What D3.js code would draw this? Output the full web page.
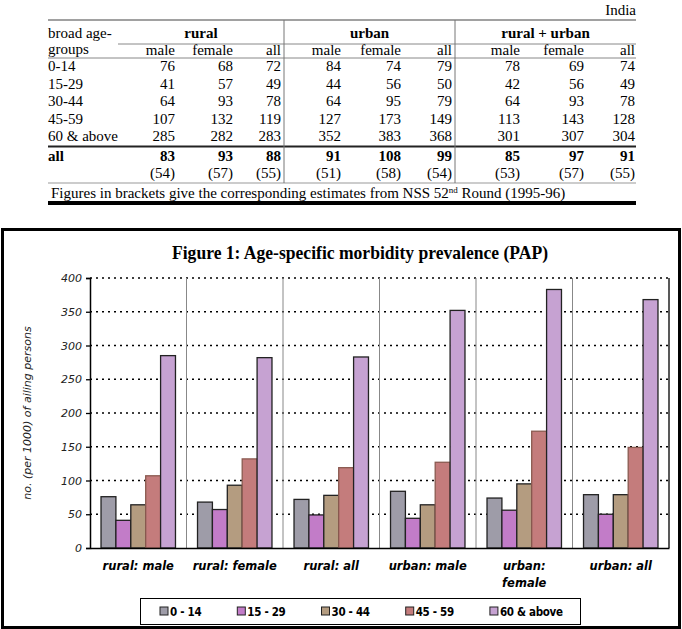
<!DOCTYPE html>
<html>
<head>
<meta charset="utf-8">
<script src="https://cdn.jsdelivr.net/npm/d3@7"></script>
<style>
  body { margin: 0; background: #fff; }
  svg { display: block; }
</style>
</head>
<body>
<div id="chart"></div>
<script>
// ---- data ----
const ageGroups = ["0-14", "15-29", "30-44", "45-59", "60 & above"];
const legendLabels = ["0 - 14", "15 - 29", "30 - 44", "45 - 59", "60 & above"];
const sectors = ["rural", "urban", "rural + urban"];
const sexes = ["male", "female", "all"];
// rows: age groups, columns: rural m/f/all, urban m/f/all, rural+urban m/f/all
const rowsValues = [
  [76, 68, 72, 84, 74, 79, 78, 69, 74],
  [41, 57, 49, 44, 56, 50, 42, 56, 49],
  [64, 93, 78, 64, 95, 79, 64, 93, 78],
  [107, 132, 119, 127, 173, 149, 113, 143, 128],
  [285, 282, 283, 352, 383, 368, 301, 307, 304]
];
const allValues = [83, 93, 88, 91, 108, 99, 85, 97, 91];
const nss52Values = [54, 57, 55, 51, 58, 54, 53, 57, 55];
const chartCategories = ["rural: male", "rural: female", "rural: all", "urban: male", "urban: female", "urban: all"];
const yTicks = [0, 50, 100, 150, 200, 250, 300, 350, 400];
const colors = ["#9e9ca8", "#c27cc8", "#b49c80", "#c47c7c", "#c6a2d2"];

const W = 682, H = 629;
const svg = d3.select("#chart").append("svg").attr("width", W).attr("height", H);

// ---- table ----
const serif = "'Liberation Serif', 'Times New Roman', serif";
const tLeft = 48, tRight = 636;
const colRight = [175, 233, 281, 341, 401, 452, 520, 584, 635];
const groupEdges = [118, 284, 455, 636];
const rowBase = [71, 89, 106, 124, 141];

const table = svg.append("g").style("font-family", serif).style("font-size", "15px").attr("fill", "#000");

table.append("text").attr("x", tRight).attr("y", 15).attr("text-anchor", "end").text("India");

function hline(y, x1, x2, color, w) {
  table.append("line").attr("x1", x1).attr("x2", x2).attr("y1", y).attr("y2", y)
    .attr("stroke", color).attr("stroke-width", w);
}
hline(20, tLeft, tRight, "#444", 1.2);
hline(44, groupEdges[0], tRight, "#888", 1);
hline(58, tLeft, tRight, "#888", 1);
hline(146.5, tLeft, tRight, "#222", 2);
hline(183, tLeft, tRight, "#999", 1);
hline(203, tLeft, tRight, "#000", 4);
[groupEdges[1], groupEdges[2]].forEach(x => {
  table.append("line").attr("x1", x).attr("x2", x).attr("y1", 20).attr("y2", 183)
    .attr("stroke", "#777").attr("stroke-width", 1);
});

table.append("text").attr("x", tLeft).attr("y", 38).text("broad age-");
table.append("text").attr("x", tLeft).attr("y", 54).text("groups");

table.selectAll(".grp").data(sectors).join("text")
  .attr("x", (d, i) => (groupEdges[i] + groupEdges[i + 1]) / 2)
  .attr("y", 38).attr("text-anchor", "middle").style("font-weight", "bold").text(d => d);

table.selectAll(".sex").data(d3.range(9)).join("text")
  .attr("x", i => colRight[i]).attr("y", 55).attr("text-anchor", "end")
  .text(i => sexes[i % 3]);

rowsValues.forEach((row, r) => {
  table.append("text").attr("x", tLeft).attr("y", rowBase[r]).text(ageGroups[r]);
  table.selectAll(null).data(row).join("text")
    .attr("x", (d, i) => colRight[i]).attr("y", rowBase[r]).attr("text-anchor", "end").text(d => d);
});

table.append("text").attr("x", tLeft).attr("y", 161).style("font-weight", "bold").text("all");
table.selectAll(null).data(allValues).join("text")
  .attr("x", (d, i) => colRight[i]).attr("y", 161).attr("text-anchor", "end")
  .style("font-weight", "bold").text(d => d);
table.selectAll(null).data(nss52Values).join("text")
  .attr("x", (d, i) => colRight[i]).attr("y", 178).attr("text-anchor", "end").text(d => "(" + d + ")");

const foot = table.append("text").attr("x", 51).attr("y", 198);
foot.append("tspan").text("Figures in brackets give the corresponding estimates from NSS 52");
foot.append("tspan").attr("dy", -5).style("font-size", "9px").text("nd");
foot.append("tspan").attr("dy", 5).text(" Round (1995-96)");

// ---- chart ----
const sans = "'DejaVu Sans', Verdana, sans-serif";
svg.append("rect").attr("x", 2.5).attr("y", 229.5).attr("width", 677).attr("height", 398)
  .attr("fill", "none").attr("stroke", "#000").attr("stroke-width", 3);

svg.append("text").attr("x", 360).attr("y", 259).attr("text-anchor", "middle")
  .style("font-family", serif).style("font-weight", "bold").style("font-size", "19px")
  .attr("textLength", 376).attr("lengthAdjust", "spacingAndGlyphs")
  .text("Figure 1: Age-specific morbidity prevalence (PAP)");

const plot = { left: 90, right: 669, top: 278, bottom: 548 };
const x0 = d3.scaleBand().domain(chartCategories).range([plot.left, plot.right]).padding(0);
const x1 = d3.scaleBand().domain(ageGroups).range([0, x0.bandwidth()]).paddingInner(0).paddingOuter(0.74);
const y = d3.scaleLinear().domain([0, 400]).range([plot.bottom, plot.top]);

// dotted gridlines
svg.append("g").selectAll("line").data(yTicks.filter(t => t > 0)).join("line")
  .attr("x1", plot.left).attr("x2", plot.right)
  .attr("y1", d => y(d)).attr("y2", d => y(d))
  .attr("stroke", "#000").attr("stroke-width", 1.5).attr("stroke-dasharray", "2,4");

// category separators
svg.append("g").selectAll("line").data(chartCategories.slice(1)).join("line")
  .attr("x1", d => x0(d)).attr("x2", d => x0(d))
  .attr("y1", plot.top).attr("y2", plot.bottom)
  .attr("stroke", "#888").attr("stroke-width", 1);

svg.append("line").attr("x1", plot.right).attr("x2", plot.right)
  .attr("y1", plot.top).attr("y2", plot.bottom).attr("stroke", "#222").attr("stroke-width", 1.5);

// bars
const barData = [];
chartCategories.forEach((c, ci) => {
  ageGroups.forEach((a, ai) => barData.push({ cat: c, age: a, ai: ai, value: rowsValues[ai][ci] }));
});
svg.append("g").selectAll("rect").data(barData).join("rect")
  .attr("x", d => x0(d.cat) + x1(d.age))
  .attr("y", d => y(d.value))
  .attr("width", x1.bandwidth())
  .attr("height", d => y(0) - y(d.value))
  .attr("fill", d => colors[d.ai])
  .attr("stroke", d => d.ai === 3 ? "#8a5a50" : "#222").attr("stroke-width", 1.3);

// y axis
const yAxis = svg.append("g").attr("transform", `translate(${plot.left},0)`)
  .call(d3.axisLeft(y).tickValues(yTicks).tickSize(4).tickPadding(4));
yAxis.select(".domain").attr("stroke", "#000").attr("stroke-width", 1.5);
yAxis.selectAll(".tick line").attr("stroke", "#000").attr("stroke-width", 1.3);
yAxis.selectAll(".tick text").style("font-family", sans).style("font-style", "italic")
  .style("font-size", "11px").attr("fill", "#222");

// x axis
const xAxis = svg.append("g").attr("transform", `translate(0,${plot.bottom})`)
  .call(d3.axisBottom(x0).tickSize(0).tickPadding(14));
xAxis.select(".domain").attr("stroke", "#000").attr("stroke-width", 1.5);
xAxis.selectAll(".tick text").style("font-family", sans).style("font-style", "italic")
  .style("font-weight", "bold").style("font-size", "11.5px").attr("fill", "#000")
  .each(function () {
    const t = d3.select(this);
    if (this.getComputedTextLength() > x0.bandwidth() - 6) {
      const words = t.text().split(" ");
      t.text(null);
      words.forEach((w, i) => {
        t.append("tspan").attr("x", 0).attr("dy", i === 0 ? "0.71em" : "1.45em").text(w);
      });
      t.attr("dy", null);
    }
  });

svg.append("text")
  .attr("transform", `translate(31,${(plot.top + plot.bottom) / 2}) rotate(-90)`)
  .attr("text-anchor", "middle")
  .style("font-family", sans).style("font-style", "italic").style("font-size", "11px").attr("fill", "#222")
  .text("no. (per 1000) of ailing persons");

// legend
const legend = svg.append("g");
legend.append("rect").attr("x", 140.5).attr("y", 598.5).attr("width", 440).attr("height", 26)
  .attr("fill", "#fff").attr("stroke", "#000").attr("stroke-width", 1);
let lx = 160;
legendLabels.forEach((lab, i) => {
  const g = legend.append("g").attr("transform", `translate(${lx},611)`);
  g.append("rect").attr("x", 0).attr("y", -4).attr("width", 8).attr("height", 8)
    .attr("fill", colors[i]).attr("stroke", "#222").attr("stroke-width", 1);
  const t = g.append("text").attr("x", 10).attr("y", 4.5)
    .style("font-family", "'DejaVu Sans Condensed', 'DejaVu Sans', sans-serif")
    .style("font-stretch", "condensed").style("font-weight", "bold").style("font-size", "11.5px")
    .attr("letter-spacing", "-0.3")
    .text(lab);
  lx += 10 + t.node().getComputedTextLength() + 36;
});
</script>
</body>
</html>
